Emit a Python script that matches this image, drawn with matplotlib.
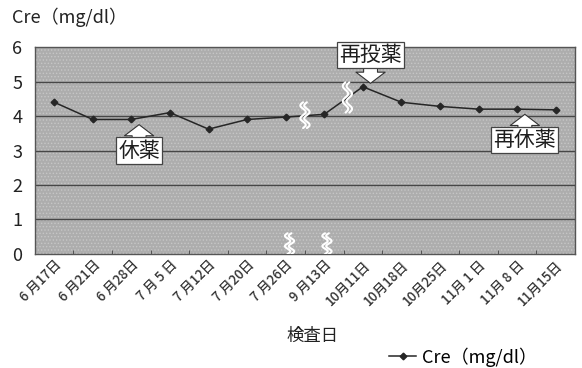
import numpy as np
import matplotlib
matplotlib.use('Agg')
import matplotlib.pyplot as plt
from matplotlib.patches import Rectangle
from matplotlib.transforms import blended_transform_factory

plt.rcParams['font.family'] = ['Noto Sans CJK JP', 'DejaVu Sans']
plt.rcParams['hatch.linewidth'] = 0.6

# 検査日とクレアチニン値
dates = ['6 月17日', '6 月21日', '6 月28日', '7 月 5 日', '7 月12日', '7 月20日', '7 月26日',
         '9 月13日', '10月11日', '10月18日', '10月25日', '11月 1 日', '11月 8 日', '11月15日']
cre = [4.4, 3.9, 3.9, 4.1, 3.62, 3.9, 3.97, 4.05, 4.85, 4.4, 4.28, 4.2, 4.2, 4.18]

# 注記（ラベル, 対象の検査日, 向き）
notes = [('休薬', 2, 'up'), ('再投薬', 8, 'down'), ('再休薬', 12, 'up')]

fig = plt.figure(figsize=(5.82, 3.68), dpi=100)
ax = fig.add_axes([0.060, 0.310, 0.928, 0.562])

x = np.arange(len(dates))
ax.set_xlim(-0.5, len(dates) - 0.5)
ax.set_ylim(0, 6)

# 網掛けの背景
ax.set_facecolor('#adadad')
ax.add_patch(Rectangle((0, 0), 1, 1, transform=ax.transAxes, facecolor='none',
                       edgecolor='#c6c6c6', hatch='.....', linewidth=0, zorder=0.5))

for yv in range(1, 6):
    ax.axhline(yv, color='#474747', linewidth=1.0, zorder=1)

ax.plot(x, cre, color='#262626', linewidth=1.1, marker='D', markersize=3.4,
        markerfacecolor='#262626', zorder=3, label='Cre（mg/dl）')

for s in ax.spines.values():
    s.set_color('#555555')
    s.set_linewidth(1.0)

ax.set_yticks(range(0, 7))
ax.tick_params(axis='y', length=0, labelsize=13, pad=9, colors='#222222')
ax.set_xticks(x)
ax.set_xticklabels(dates, rotation=45, ha='right', rotation_mode='anchor',
                   fontsize=9.5, color='#333333', fontweight='medium')
ax.tick_params(axis='x', length=0, pad=3)
ax.set_xticks(np.arange(0.5, len(dates) - 0.5), minor=True)
ax.tick_params(axis='x', which='minor', direction='in', length=3, color='#444444')

fig.text(0.537, 0.087, '検査日', fontsize=12.5, color='#222222', ha='center', va='center')
fig.text(0.020, 0.952, 'Cre（mg/dl）', fontsize=13, color='#222222', va='center')

# 日付の途切れを示す波線
trans = blended_transform_factory(ax.transData, ax.transAxes)
def wave(xc, y0, y1, tr):
    t = np.linspace(0, 1, 50)
    yy = y0 + (y1 - y0) * t
    xx = xc + 0.07 * np.sin(t * 2 * np.pi * 2)
    for dx in (-0.05, 0.05):
        ax.plot(xx + dx, yy, color='white', linewidth=1.5, zorder=4,
                transform=tr, solid_capstyle='round')

wave(6.1, 0.0, 0.1, trans)
wave(7.07, 0.0, 0.1, trans)
wave(6.5, 3.65, 4.4, ax.transData)
wave(7.6, 4.1, 4.98, ax.transData)

# 注記の吹き出しと矢印
for label, i, way in notes:
    yv = cre[i]
    xc = i + 0.2
    if way == 'up':
        ty, tail, head = yv - 0.9, yv - 0.65, yv - 0.15
    else:
        ty, tail, head = yv + 0.93, yv + 0.68, yv + 0.1
    ax.annotate('', xy=(xc, head), xytext=(xc, tail),
                arrowprops=dict(arrowstyle='simple,head_width=2.1,head_length=0.8,tail_width=1.0',
                                facecolor='white', edgecolor='#333333', linewidth=0.8,
                                mutation_scale=10, shrinkA=0, shrinkB=0),
                zorder=5, annotation_clip=False)
    ax.text(xc, ty, label, ha='center', va='center', fontsize=15, color='#1e1e1e',
            zorder=6, clip_on=False,
            bbox=dict(boxstyle='square,pad=0.1', facecolor='white', edgecolor='#444444',
                      linewidth=0.9))

fig.legend(*ax.get_legend_handles_labels(), loc='center right',
           bbox_to_anchor=(0.95, 0.03), frameon=False,
           fontsize=13, handlelength=1.5, handletextpad=0.3)

fig.savefig('out.png', dpi=100)
